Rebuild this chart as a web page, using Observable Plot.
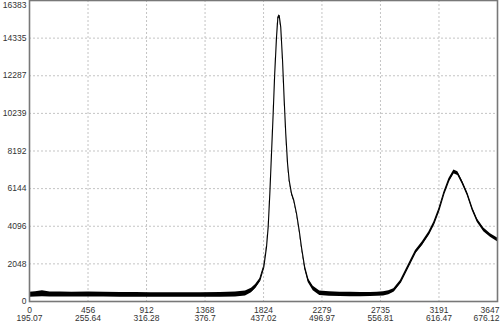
<!DOCTYPE html>
<html>
<head>
<meta charset="utf-8">
<script src="https://cdn.jsdelivr.net/npm/d3@7"></script>
<script src="https://cdn.jsdelivr.net/npm/@observablehq/plot@0.6"></script>
<style>
  html, body { margin: 0; padding: 0; background: #fff; }
  #chart svg { display: block; }
</style>
</head>
<body>
<div id="chart"></div>
<script>
// Detector pixel index (x) and counts (y)
const pixels = [0, 47, 101, 160, 242, 330, 460, 580, 709, 830, 943, 1060, 1177, 1333, 1488, 1605, 1683, 1730, 1762, 1795, 1826, 1847, 1860, 1873, 1886, 1899, 1911, 1925, 1935, 1946, 1958, 1972, 1985, 1997, 2011, 2024, 2042, 2060, 2081, 2102, 2120, 2145, 2172, 2211, 2262, 2338, 2420, 2501, 2580, 2657, 2710, 2759, 2800, 2839, 2891, 2930, 2969, 3008, 3060, 3112, 3151, 3190, 3229, 3268, 3307, 3338, 3372, 3411, 3450, 3489, 3540, 3592, 3647];
const counts = [370, 385, 420, 380, 381, 375, 381, 372, 365, 360, 354, 350, 354, 354, 365, 381, 435, 599, 816, 1143, 1867, 2956, 4044, 5878, 8056, 10233, 12410, 14386, 15404, 15567, 14930, 13118, 10940, 9144, 7511, 6586, 5878, 5497, 4790, 3865, 2939, 1850, 1143, 708, 452, 408, 390, 381, 378, 381, 395, 419, 480, 599, 1050, 1595, 2139, 2683, 3141, 3685, 4229, 4953, 5862, 6586, 7060, 6960, 6494, 5862, 5046, 4409, 3903, 3592, 3358];
// half-height of the noise band around the curve
const noise = [140, 140, 160, 135, 130, 130, 130, 130, 130, 130, 125, 125, 125, 125, 130, 130, 130, 120, 110, 100, 80, 60, 50, 50, 50, 50, 50, 50, 60, 60, 50, 50, 50, 50, 50, 50, 50, 50, 50, 60, 70, 90, 110, 120, 125, 125, 120, 120, 115, 115, 115, 115, 110, 100, 90, 90, 90, 90, 95, 95, 95, 95, 90, 90, 100, 100, 95, 90, 90, 95, 100, 100, 100];

const xTicks = [0, 456, 912, 1368, 1824, 2279, 2735, 3191, 3647];
const wavelengths = ["195.07", "255.64", "316.28", "376.7", "437.02", "496.97", "556.81", "616.47", "676.12"];
const yTicks = [0, 2048, 4096, 6144, 8192, 10239, 12287, 14335, 16383];

const data = pixels.map((p, i) => ({p, c: counts[i], lo: counts[i] - noise[i], hi: counts[i] + noise[i]}));
const xLabels = xTicks.map((t, i) => ({t, label: `${t}\n${wavelengths[i]}`}));
const last = xTicks.length - 1;

const font = "Liberation Sans, Arial, sans-serif";
const labelColor = "#333";

const chart = Plot.plot({
  width: 500,
  height: 332,
  marginLeft: 29,
  marginRight: 3,
  marginTop: 0,
  marginBottom: 31,
  style: {fontFamily: font, fontSize: "8.5px", background: "#fff"},
  x: {domain: [0, 3647], axis: null},
  y: {domain: [0, 16383], axis: null},
  marks: [
    Plot.gridX(xTicks, {stroke: "#c4c4c4", strokeOpacity: 1, strokeDasharray: "2,2"}),
    Plot.gridY(yTicks, {stroke: "#c4c4c4", strokeOpacity: 1, strokeDasharray: "2,2"}),
    Plot.areaY(data, {x: "p", y1: "lo", y2: "hi", fill: "#000"}),
    Plot.line(data, {x: "p", y: "c", stroke: "#000", strokeWidth: 1.1}),
    Plot.frame({stroke: "#787878", strokeWidth: 1.6}),
    // y tick labels
    Plot.text(yTicks.slice(0, -1), {y: d => d, frameAnchor: "left", dx: -3, textAnchor: "end", text: d => String(d), fill: labelColor}),
    Plot.text(yTicks.slice(-1), {y: d => d, frameAnchor: "left", dx: -3, textAnchor: "end", lineAnchor: "top", dy: 1, text: d => String(d), fill: labelColor}),
    // x tick labels (two rows: pixel index and wavelength)
    Plot.text(xLabels.slice(0, last), {x: "t", frameAnchor: "bottom", dy: 5, lineAnchor: "top", lineHeight: 1, text: "label", fill: labelColor}),
    Plot.text(xLabels.slice(last), {x: "t", frameAnchor: "bottom", dy: 5, dx: 2, textAnchor: "end", lineAnchor: "top", lineHeight: 1, text: "label", fill: labelColor})
  ]
});
document.getElementById("chart").appendChild(chart);
</script>
</body>
</html>
